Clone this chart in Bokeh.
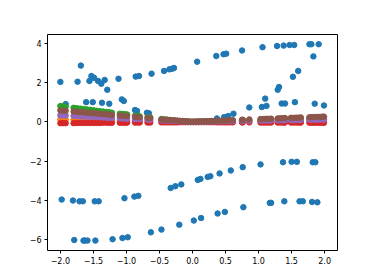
from bokeh.plotting import figure
from bokeh.models import FixedTicker, Range1d
from bokeh.embed import file_html
from bokeh.resources import INLINE

# ---- blue series (scattered bands) ----
bx = [-2.00, -1.98, -1.92, -1.81, -1.79, -1.74, -1.71, -1.69, -1.66, -1.65, -1.63, -1.61, -1.59,
      -1.56, -1.53, -1.51, -1.49, -1.48, -1.47, -1.43, -1.42, -1.38, -1.37, -1.33, -1.29, -1.26,
      -1.21, -1.12, -1.07, -1.06, -1.04, -1.03, -0.98, -0.88, -0.87, -0.86, -0.84, -0.82, -0.81,
      -0.69, -0.66, -0.63, -0.62, -0.47, -0.43, -0.35, -0.33, -0.31, -0.28, -0.26, -0.20, -0.17,
      0.02, 0.07, 0.08, 0.12, 0.13, 0.23, 0.27, 0.36, 0.37, 0.38, 0.41, 0.47, 0.48, 0.49, 0.51,
      0.54, 0.58, 0.62, 0.75, 0.76, 0.77, 0.86, 1.03, 1.05, 1.06, 1.10, 1.12, 1.17, 1.19, 1.29,
      1.31, 1.28, 1.35, 1.37, 1.38, 1.39, 1.40, 1.47, 1.50, 1.52, 1.54, 1.55, 1.58, 1.60, 1.62,
      1.67, 1.77, 1.80, 1.81, 1.82, 1.83, 1.85, 1.86, 1.89, 1.91, 1.99]
by = [2.03, -3.96, 0.90, -4.01, -6.02, 2.04, -4.05, 2.86, -4.05, -6.05, -6.05, 1.00, -6.05,
      2.08, 2.33, 1.00, 2.24, -4.05, -6.05, 2.08, -4.05, 1.94, 0.97, 2.13, 1.63, 0.92,
      -5.98, 2.19, 1.14, -5.92, 1.06, -3.89, -5.88, -3.81, 0.60, 2.30, 0.55, -3.77, 2.33,
      0.46, 0.43, -5.63, 2.45, -5.49, 2.59, 2.67, -3.37, 2.70, 2.74, -3.28, -5.24, -3.19,
      -5.03, 3.06, -2.96, -2.91, -4.90, -2.81, -2.77, 3.35, 0.17, -4.67, -2.63, 3.44, 0.24, -4.59, 3.47,
      0.29, -2.48, 0.41, 3.63, -2.31, -4.35, 0.73, -2.17, 0.75, 3.80, 1.18, 0.81, -4.13, -4.13, 1.63,
      1.77, 3.86, 0.93, -2.06, 3.88, -4.05, 0.93, 3.91, -2.04, 2.29, 3.91, 1.00, -2.04, 2.59, -4.05,
      -4.05, 3.95, 3.95, -4.08, -2.06, 3.33, 0.92, -2.06, -4.10, 3.95, 0.83]

# ---- near-zero series share this x grid ----
xz = [-2.00, -1.96, -1.92, -1.80, -1.75, -1.70, -1.65, -1.60, -1.55, -1.50, -1.45, -1.40, -1.35,
      -1.30, -1.26, -1.22, -1.10, -1.06, -1.02, -0.99, -0.87, -0.83, -0.80, -0.68, -0.64, -0.47,
      -0.43, -0.39, -0.35, -0.31, -0.27, -0.23, -0.19, -0.15, -0.11, -0.07, -0.03, 0.01, 0.05,
      0.09, 0.13, 0.17, 0.21, 0.25, 0.29, 0.33, 0.37, 0.41, 0.45, 0.49, 0.53, 0.57, 0.61, 0.75,
      0.76, 0.86, 1.03, 1.07, 1.11, 1.15, 1.19, 1.29, 1.33, 1.37, 1.40, 1.49, 1.53, 1.57, 1.61,
      1.64, 1.77, 1.81, 1.85, 1.89, 1.93, 1.97, 1.99]

orange = [0.12, 0.12, 0.12, 0.11, 0.11, 0.10, 0.10, 0.10, 0.09, 0.09, 0.09, 0.08, 0.08,
          0.08, 0.08, 0.07, 0.07, 0.06, 0.06, 0.06, 0.05, 0.05, 0.05, 0.04, 0.04, 0.03,
          0.03, 0.02, 0.02, 0.02, 0.02, 0.01, 0.01, 0.01, 0.01, 0.00, 0.00, 0.00, 0.00,
          0.00, 0.00, 0.00, 0.00, 0.01, 0.01, 0.01, 0.01, 0.01, 0.01, 0.01, 0.01, 0.01, 0.01, 0.02,
          0.02, 0.02, 0.02, 0.02, 0.02, 0.02, 0.02, 0.03, 0.03, 0.03, 0.03, 0.03, 0.03, 0.03, 0.03,
          0.03, 0.04, 0.04, 0.04, 0.04, 0.04, 0.04, 0.04]

green = [0.80, 0.78, 0.77, 0.71, 0.69, 0.67, 0.65, 0.63, 0.61, 0.59, 0.56, 0.54, 0.52,
         0.50, 0.48, 0.46, 0.41, 0.40, 0.38, 0.37, 0.31, 0.30, 0.28, 0.23, 0.22, 0.14,
         0.12, 0.11, 0.09, 0.07, 0.06, 0.04, 0.02, 0.01, 0.00, 0.00, 0.00, 0.00, 0.01,
         0.01, 0.01, 0.02, 0.02, 0.03, 0.03, 0.03, 0.04, 0.04, 0.05, 0.05, 0.05, 0.06, 0.06, 0.08,
         0.08, 0.09, 0.10, 0.11, 0.11, 0.12, 0.12, 0.13, 0.13, 0.14, 0.14, 0.15, 0.15, 0.16, 0.16,
         0.16, 0.18, 0.18, 0.19, 0.19, 0.19, 0.20, 0.20]

red = [-0.07, -0.07, -0.07, -0.07, -0.06, -0.06, -0.06, -0.06, -0.06, -0.06, -0.06, -0.06, -0.05,
       -0.05, -0.05, -0.05, -0.05, -0.05, -0.05, -0.04, -0.04, -0.04, -0.04, -0.04, -0.04, -0.03,
       -0.03, -0.03, -0.03, -0.03, -0.03, -0.03, -0.02, -0.02, -0.02, -0.02, -0.02, -0.02, -0.02,
       -0.02, -0.02, -0.02, -0.02, -0.02, -0.02, -0.02, -0.03, -0.03, -0.03, -0.03, -0.03, -0.03, -0.03, -0.03,
       -0.03, -0.03, -0.04, -0.04, -0.04, -0.04, -0.04, -0.04, -0.04, -0.04, -0.04, -0.04, -0.04, -0.04, -0.04,
       -0.04, -0.05, -0.05, -0.05, -0.05, -0.05, -0.05, -0.05]

purple = [0.33, 0.32, 0.32, 0.30, 0.29, 0.28, 0.27, 0.26, 0.26, 0.25, 0.24, 0.23, 0.22,
          0.21, 0.21, 0.20, 0.18, 0.17, 0.17, 0.16, 0.14, 0.14, 0.13, 0.11, 0.11, 0.08,
          0.07, 0.06, 0.06, 0.05, 0.04, 0.04, 0.03, 0.02, 0.02, 0.01, 0.00, 0.00, 0.00,
          0.01, 0.01, 0.01, 0.01, 0.02, 0.02, 0.02, 0.02, 0.02, 0.03, 0.03, 0.03, 0.03, 0.04, 0.05,
          0.05, 0.05, 0.06, 0.06, 0.07, 0.07, 0.07, 0.08, 0.08, 0.08, 0.08, 0.09, 0.09, 0.09, 0.10,
          0.10, 0.11, 0.11, 0.11, 0.11, 0.12, 0.12, 0.12]

brown = [0.58, 0.57, 0.56, 0.52, 0.51, 0.49, 0.48, 0.46, 0.45, 0.44, 0.42, 0.41, 0.39,
         0.38, 0.37, 0.35, 0.32, 0.31, 0.30, 0.29, 0.25, 0.24, 0.23, 0.20, 0.19, 0.12,
         0.11, 0.10, 0.09, 0.08, 0.07, 0.06, 0.05, 0.04, 0.03, 0.02, 0.01, 0.00, 0.01,
         0.01, 0.02, 0.02, 0.03, 0.03, 0.04, 0.04, 0.05, 0.05, 0.06, 0.06, 0.07, 0.07, 0.08, 0.10,
         0.10, 0.12, 0.14, 0.14, 0.15, 0.15, 0.16, 0.17, 0.18, 0.18, 0.19, 0.20, 0.20, 0.21, 0.21,
         0.22, 0.23, 0.24, 0.24, 0.25, 0.25, 0.26, 0.26]

x_ticks = [-2.0, -1.5, -1.0, -0.5, 0.0, 0.5, 1.0, 1.5, 2.0]
x_tick_labels = ["\u22122.0", "\u22121.5", "\u22121.0", "\u22120.5", "0.0", "0.5", "1.0", "1.5", "2.0"]
y_ticks = [-6, -4, -2, 0, 2, 4]
y_tick_labels = ["\u22126", "\u22124", "\u22122", "0", "2", "4"]

p = figure(frame_width=290, frame_height=216, output_backend="svg", toolbar_location=None,
           x_range=Range1d(-2.195, 2.195), y_range=Range1d(-6.555, 4.445),
           min_border_left=47, min_border_right=37, min_border_top=34, min_border_bottom=30)
p.background_fill_color = "white"
p.border_fill_color = "white"
p.outline_line_color = "black"
p.outline_line_width = 1
p.xgrid.grid_line_color = None
p.ygrid.grid_line_color = None

p.xaxis.ticker = FixedTicker(ticks=x_ticks)
p.xaxis.major_label_overrides = {t: l for t, l in zip(x_ticks, x_tick_labels)}
p.yaxis.ticker = FixedTicker(ticks=y_ticks)
p.yaxis.major_label_overrides = {t: l for t, l in zip(y_ticks, y_tick_labels)}
for ax in (p.xaxis[0], p.yaxis[0]):
    ax.axis_line_color = None
    ax.major_tick_out = 3
    ax.major_tick_in = 0
    ax.minor_tick_line_color = None
    ax.major_tick_line_color = "black"
    ax.major_label_text_font = "DejaVu Sans"
    ax.major_label_text_font_size = "8px"
    ax.major_label_text_color = "black"
    ax.major_label_standoff = 3

size = 5.5
p.scatter(bx, by, size=size, color="#1f77b4")
p.scatter(xz, orange, size=size, color="#ff7f0e")
p.scatter(xz, green, size=size, color="#2ca02c")
p.scatter(xz, red, size=size, color="#d62728")
p.scatter(xz, purple, size=size, color="#9467bd")
p.scatter(xz, brown, size=size, color="#8c564b")

open("out.html", "w").write(file_html(p, INLINE))
